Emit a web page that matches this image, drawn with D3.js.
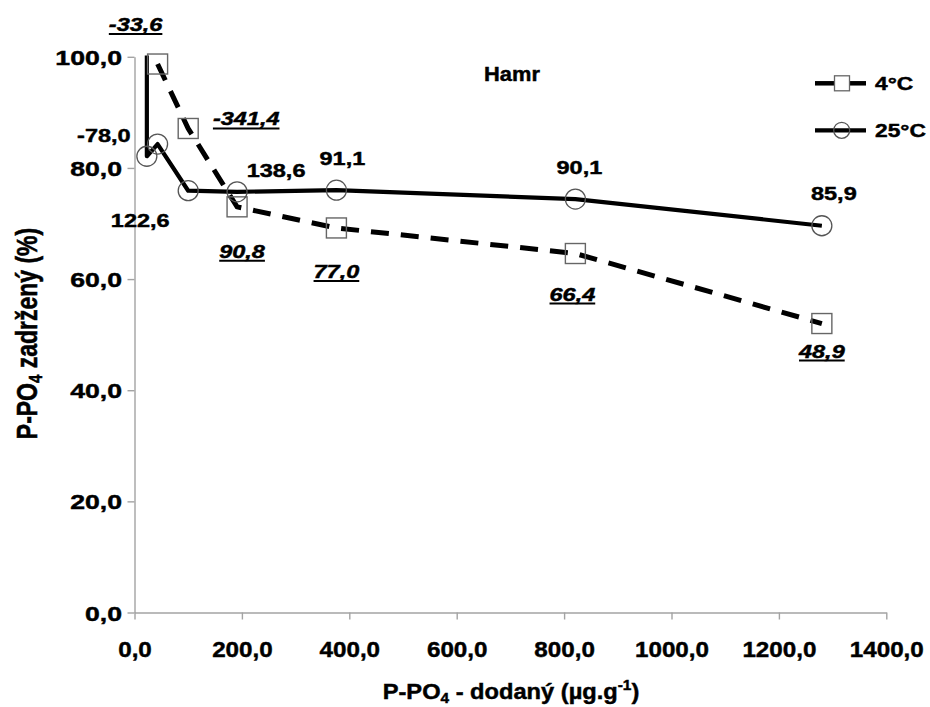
<!DOCTYPE html>
<html>
<head>
<meta charset="utf-8">
<script src="https://cdn.jsdelivr.net/npm/d3@7"></script>
<style>
  body { margin: 0; background: #fff; }
  svg text { font-family: "Liberation Sans", Arial, sans-serif; font-weight: bold; fill: #000; stroke: #000; stroke-width: 0.45px; }
</style>
</head>
<body>
<div id="chart"></div>
<script>
// Data
const xTicks = [0, 200, 400, 600, 800, 1000, 1200, 1400];
const yTicks = [0, 20, 40, 60, 80, 100];

// 4°C series (dashed, squares)
const dose4 = [43, 100, 191, 376, 821, 1280];
const ret4 = [98.7, 87.1, 73.0, 69.2, 64.6, 52.0];
const lab4 = ['-33,6', '-341,4', '90,8', '77,0', '66,4', '48,9'];

// 25°C series (solid, circles); first point is off the scale
const dose25 = [23, 23, 43, 100, 191, 376, 821, 1280];
const ret25 = [130, 82.1, 84.3, 75.9, 75.7, 76.0, 74.4, 69.6];
const lab25 = [null, '-78,0', null, '122,6', '138,6', '91,1', '90,1', '85,9'];

// label placement offsets (px from the point)
const off4 = [[-22, -33], [58, -3], [5, 51], [0, 50], [-3, 47], [0, 34]];
const off25 = [null, [-43, -14], null, [-48, 36], [39, -15], [6, -25], [4, -25], [12, -26]];

// Dimensions
const W = 930, H = 707;
const margin = { top: 56.8, left: 134.5 };
const width = 751.8, height = 555.7;

const x = d3.scaleLinear().domain([0, 1400]).range([0, width]);
const y = d3.scaleLinear().domain([0, 100]).range([height, 0]);
const fmt = d => d3.format('.1f')(d).replace('.', ',');

const svg = d3.select('#chart').append('svg')
    .attr('width', W).attr('height', H);

const g = svg.append('g')
    .attr('transform', `translate(${margin.left},${margin.top})`);

// stretched text helper
function label(parent, px, py, str, o) {
    const t = parent.append('text')
        .attr('transform', `translate(${px},${py}) scale(${o.sx},1)`)
        .attr('text-anchor', o.anchor || 'middle')
        .style('font-size', o.size + 'px')
        .style('font-style', o.italic ? 'italic' : 'normal')
        .text(str);
    if (o.underline) {
        const w = t.node().getComputedTextLength() * o.sx;
        parent.append('line')
            .attr('x1', px - w / 2).attr('x2', px + w / 2)
            .attr('y1', py + 3).attr('y2', py + 3)
            .attr('stroke', '#000').attr('stroke-width', 2);
    }
    return t;
}

// Axes
const yAxis = g.append('g')
    .call(d3.axisLeft(y).tickValues(yTicks).tickSize(7).tickSizeOuter(0).tickFormat(fmt));
const xAxis = g.append('g')
    .attr('transform', `translate(0,${height})`)
    .call(d3.axisBottom(x).tickValues(xTicks).tickSize(7).tickSizeOuter(0).tickFormat(fmt));

[yAxis, xAxis].forEach(a => {
    a.selectAll('path, line').attr('stroke', '#a3a3a3').attr('stroke-width', 1.4);
    a.attr('font-family', null).attr('font-size', null);
});

yAxis.selectAll('text')
    .attr('x', -12.5 / 1.3).attr('y', 7.5).attr('dy', null)
    .attr('transform', 'scale(1.3,1)')
    .style('font-size', '20.5px');

xAxis.selectAll('text')
    .attr('y', 45).attr('dy', null)
    .attr('transform', 'scale(1.1,1)')
    .style('font-size', '22px');

// Clip for lines
svg.append('clipPath').attr('id', 'plot')
    .append('rect').attr('x', -1).attr('y', -1.2).attr('width', width + 20).attr('height', height + 1.2);

const pts4 = dose4.map((d, i) => ({ x: d, y: ret4[i], lab: lab4[i], off: off4[i] }));
const pts25 = dose25.map((d, i) => ({ x: d, y: ret25[i], lab: lab25[i], off: off25[i] }));

const line = d3.line().x(d => x(d.x)).y(d => y(d.y));

g.append('path').datum(pts4)
    .attr('clip-path', 'url(#plot)')
    .attr('fill', 'none').attr('stroke', '#000').attr('stroke-width', 5)
    .attr('stroke-dasharray', '18,12')
    .attr('d', line);

g.append('path').datum(pts25)
    .attr('clip-path', 'url(#plot)')
    .attr('fill', 'none').attr('stroke', '#000').attr('stroke-width', 4.2)
    .attr('stroke-linejoin', 'round')
    .attr('d', line);

// Markers
g.selectAll('.sq').data(pts4.filter(d => d.y <= 100)).join('rect')
    .attr('class', 'sq')
    .attr('x', d => x(d.x) - 10).attr('y', d => y(d.y) - 10)
    .attr('width', 20).attr('height', 20)
    .attr('fill', 'none').attr('stroke', '#666').attr('stroke-width', 1.4);

g.selectAll('.ci').data(pts25.filter(d => d.y <= 100)).join('circle')
    .attr('class', 'ci')
    .attr('cx', d => x(d.x)).attr('cy', d => y(d.y)).attr('r', 10)
    .attr('fill', 'none').attr('stroke', '#555').attr('stroke-width', 1.3);

// Data labels
pts4.forEach(d => {
    label(g, x(d.x) + d.off[0], y(d.y) + d.off[1], d.lab,
        { size: 18.5, sx: 1.27, italic: true, underline: true });
});
pts25.filter(d => d.lab).forEach(d => {
    label(g, x(d.x) + d.off[0], y(d.y) + d.off[1], d.lab, { size: 18.5, sx: 1.27 });
});

// Title
label(svg, 512, 81, 'Hamr', { size: 19.5, sx: 1.12 });

// Legend
const legend = [
    { name: '4°C', dash: true },
    { name: '25°C', dash: false }
];
legend.forEach((l, i) => {
    const ly = 83.3 + i * 47;
    if (l.dash) {
        svg.append('line').attr('x1', 815).attr('x2', 834).attr('y1', ly).attr('y2', ly)
            .attr('stroke', '#000').attr('stroke-width', 4.5);
        svg.append('line').attr('x1', 849).attr('x2', 866).attr('y1', ly).attr('y2', ly)
            .attr('stroke', '#000').attr('stroke-width', 4.5);
        svg.append('rect').attr('x', 834.5).attr('y', ly - 7.5).attr('width', 15).attr('height', 15)
            .attr('fill', '#fff').attr('stroke', '#666').attr('stroke-width', 1.3);
    } else {
        svg.append('line').attr('x1', 815).attr('x2', 866).attr('y1', ly).attr('y2', ly)
            .attr('stroke', '#000').attr('stroke-width', 4.2);
        svg.append('circle').attr('cx', 841.7).attr('cy', ly).attr('r', 8)
            .attr('fill', 'none').attr('stroke', '#555').attr('stroke-width', 1.3);
    }
    label(svg, 875, ly + 7, l.name, { size: 18.5, sx: 1.23, anchor: 'start' });
});

// Axis titles
const xt = svg.append('text')
    .attr('transform', 'translate(511,699) scale(1.1,1)')
    .attr('text-anchor', 'middle')
    .style('font-size', '21.5px');
xt.append('tspan').text('P-PO');
xt.append('tspan').attr('dy', 4).style('font-size', '14px').text('4');
xt.append('tspan').attr('dy', -4).text(' - dodaný (µg.g');
xt.append('tspan').attr('dy', -9).style('font-size', '14px').text('-1');
xt.append('tspan').attr('dy', 9).text(')');

const yt = svg.append('text')
    .attr('transform', 'translate(37,333.5) scale(1.25,1) rotate(-90)')
    .attr('text-anchor', 'middle')
    .style('font-size', '23px');
yt.append('tspan').text('P-PO');
yt.append('tspan').attr('dy', 4).style('font-size', '15px').text('4');
yt.append('tspan').attr('dy', -4).text(' zadržený (%)');
</script>
</body>
</html>
